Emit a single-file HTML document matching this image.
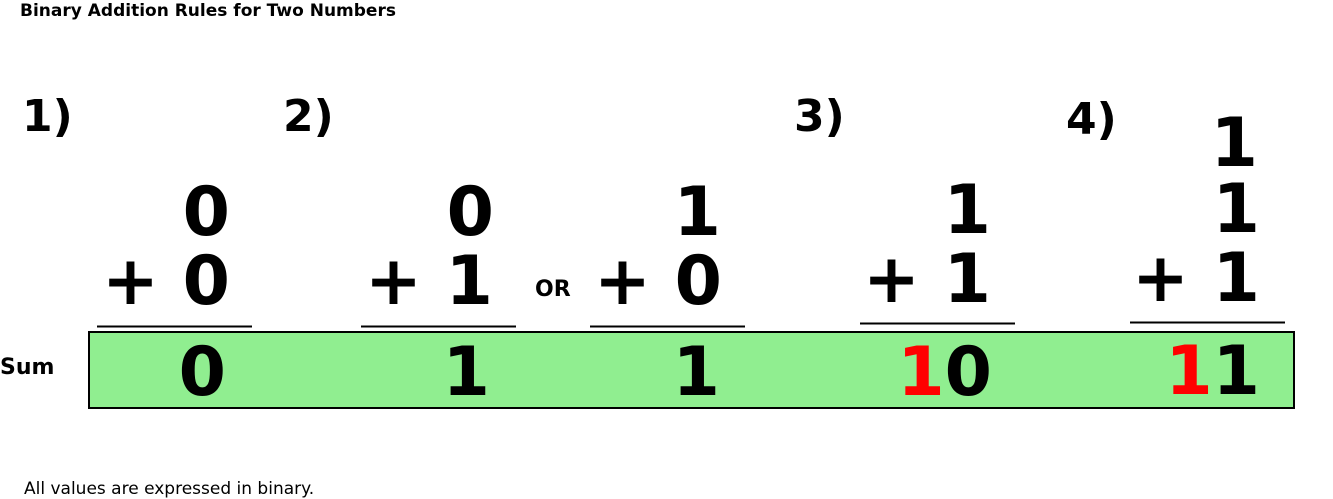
<!DOCTYPE html>
<html><head><meta charset="utf-8"><style>
html,body{margin:0;padding:0;background:#fff}
svg{display:block}
text{font-family:"DejaVu Sans","Liberation Sans",sans-serif}
.b{font-weight:bold}
.big{font-size:68px;font-weight:bold}
.lbl{font-size:44px;font-weight:bold}
</style></head><body>
<svg width="1333" height="499" viewBox="0 0 1333 499">
<text x="20" y="16" class="b" font-size="17">Binary Addition Rules for Two Numbers</text>
<rect x="89" y="332" width="1205" height="76" fill="#90ee90" stroke="#000" stroke-width="2"/>
<text x="0" y="374" class="b" font-size="22">Sum</text>
<text x="535" y="296" class="b" font-size="22">OR</text>

<g>
<text x="22" y="131" class="lbl">1)</text>
<text x="230" y="235" class="big" text-anchor="end">0</text>
<text x="230" y="304" class="big" text-anchor="end">+ 0</text>
<line x1="97" y1="326.5" x2="252" y2="326.5" stroke="#000" stroke-width="2"/>
<text x="226" y="395" class="big" text-anchor="end">0</text>
</g>
<g>
<text x="283" y="131" class="lbl">2)</text>
<text x="494" y="235" class="big" text-anchor="end">0</text>
<text x="493" y="304" class="big" text-anchor="end">+ 1</text>
<line x1="361" y1="326.5" x2="516" y2="326.5" stroke="#000" stroke-width="2"/>
<text x="490" y="395" class="big" text-anchor="end">1</text>
<text x="721" y="235" class="big" text-anchor="end">1</text>
<text x="722" y="304" class="big" text-anchor="end">+ 0</text>
<line x1="590" y1="326.5" x2="745" y2="326.5" stroke="#000" stroke-width="2"/>
<text x="720" y="395" class="big" text-anchor="end">1</text>
</g>
<g>
<text x="794" y="131" class="lbl">3)</text>
<text x="991" y="233" class="big" text-anchor="end">1</text>
<text x="991" y="302" class="big" text-anchor="end">+ 1</text>
<line x1="860" y1="323.5" x2="1015" y2="323.5" stroke="#000" stroke-width="2"/>
<text x="992" y="395" class="big" text-anchor="end"><tspan fill="#ff0000">1</tspan>0</text>
</g>
<g>
<text x="1066" y="134" class="lbl">4)</text>
<text x="1258" y="166" class="big" text-anchor="end">1</text>
<text x="1260" y="232" class="big" text-anchor="end">1</text>
<text x="1260" y="301" class="big" text-anchor="end">+ 1</text>
<line x1="1130" y1="322.5" x2="1285" y2="322.5" stroke="#000" stroke-width="2"/>
<text x="1260" y="394" class="big" text-anchor="end"><tspan fill="#ff0000">1</tspan>1</text>
</g>
<text x="24" y="494" font-size="17">All values are expressed in binary.</text>
</svg>
</body></html>
